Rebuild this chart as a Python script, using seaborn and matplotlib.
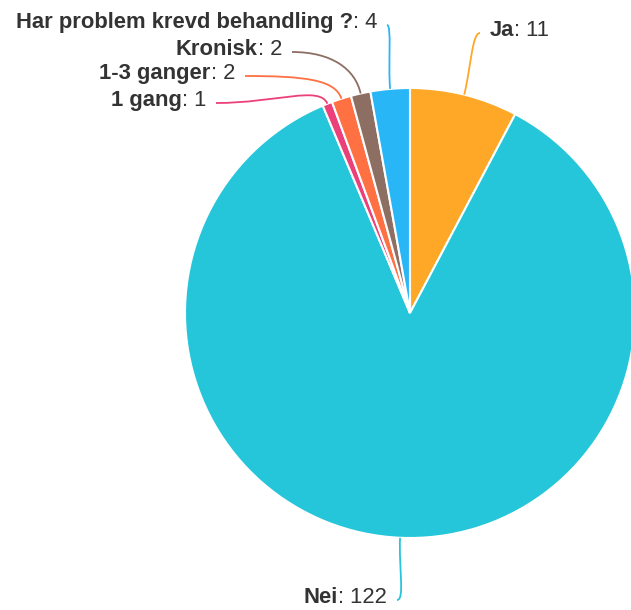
import numpy as np
import matplotlib
matplotlib.use("Agg")
import matplotlib.pyplot as plt
import seaborn as sns
from matplotlib.path import Path
from matplotlib.patches import PathPatch

# ---- data ----
categories = ["Ja", "Nei", "1 gang", "1-3 ganger", "Kronisk", "Har problem krevd behandling ?"]
values = [11, 122, 1, 2, 2, 4]
colors = ["#FFA726", "#26C6DA", "#EC407A", "#FF7043", "#8D6E63", "#29B6F6"]

# ---- layout (pixel coords, y from top) ----
W, H = 631, 610
center = (410, 313)
radius = 225
# label anchor: (x, baseline y, side)
label_pos = [
    (490, 36, "left"),
    (387, 603, "right"),
    (206, 106, "right"),
    (235, 79, "right"),
    (282, 55, "right"),
    (377, 28, "right"),
]
# how far the first control point goes horizontally from the label
ctrl_dx = [8, 8, 60, 60, 40, 5]
ctrl_out = [28, 30, 20, 20, 25, 25]

sns.set_theme(style="white")
plt.rcParams["font.family"] = ["Liberation Sans", "DejaVu Sans"]

fig = plt.figure(figsize=(W / 100, H / 100), dpi=100)
ax = fig.add_axes([0, 0, 1, 1])

def Y(y):
    return H - y

wedges, _ = ax.pie(values, colors=colors, startangle=90, counterclock=False,
                   center=(center[0], Y(center[1])), radius=radius,
                   wedgeprops=dict(edgecolor="white", linewidth=1.5))
ax.set_xlim(0, W)
ax.set_ylim(0, H)
ax.set_aspect("auto")
ax.axis("off")

renderer = fig.canvas.get_renderer()
fs = 15.8
tcol = "#333333"

for w, name, val, (lx, by, side), col, dx, out in zip(
        wedges, categories, values, label_pos, colors, ctrl_dx, ctrl_out):
    # text
    if side == "right":
        t2 = ax.text(lx, Y(by), f": {val}", ha="right", va="baseline",
                     fontsize=fs, color=tcol)
        bb = t2.get_window_extent(renderer=renderer)
        ax.text(lx - bb.width, Y(by), name, ha="right", va="baseline",
                fontsize=fs, color=tcol, fontweight="bold")
        L = (lx + 10, by - 3)
        P1 = (L[0] + dx, L[1])
    else:
        t1 = ax.text(lx, Y(by), name, ha="left", va="baseline",
                     fontsize=fs, color=tcol, fontweight="bold")
        bb = t1.get_window_extent(renderer=renderer)
        ax.text(lx + bb.width, Y(by), f": {val}", ha="left", va="baseline",
                fontsize=fs, color=tcol)
        L = (lx - 10, by - 3)
        P1 = (L[0] - dx, L[1])
    # connector
    mid = np.deg2rad((w.theta1 + w.theta2) / 2)
    ux, uy = np.cos(mid), np.sin(mid)
    Wp = (center[0] + radius * ux, Y(center[1]) + radius * uy)
    P2 = (Wp[0] + out * ux, Wp[1] + out * uy)
    verts = [(L[0], Y(L[1])), (P1[0], Y(P1[1])), P2, Wp]
    path = Path(verts, [Path.MOVETO, Path.CURVE4, Path.CURVE4, Path.CURVE4])
    ax.add_patch(PathPatch(path, facecolor="none", edgecolor=col, lw=1.3))

fig.savefig("out.png", dpi=100, facecolor="white")
